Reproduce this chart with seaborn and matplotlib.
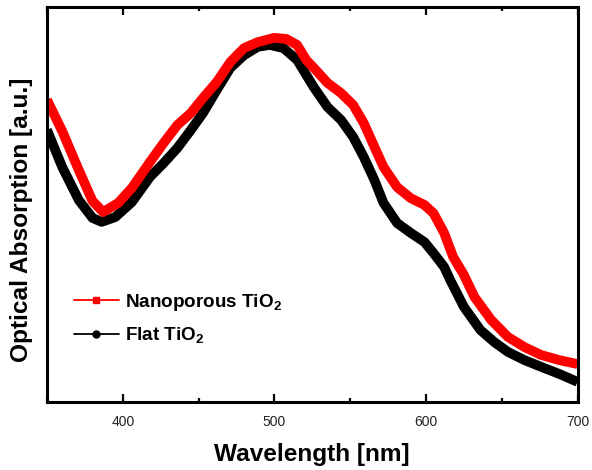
import numpy as np
import pandas as pd
import seaborn as sns
import matplotlib
matplotlib.use("Agg")
import matplotlib.pyplot as plt
from matplotlib.lines import Line2D
from matplotlib.ticker import MultipleLocator

# Data (arbitrary units)
wl_nano = [350, 360, 371, 380, 387, 397, 406, 418, 427, 436, 445, 453, 462, 471, 480,
           489, 500, 508, 515, 521, 526, 535, 544, 552, 559, 566, 572, 581, 590, 599,
           605, 612, 618, 625, 632, 643, 654, 665, 676, 688, 700]
abs_nano = [0.765, 0.686, 0.587, 0.509, 0.481, 0.504, 0.542, 0.608, 0.656, 0.701, 0.732,
            0.770, 0.810, 0.861, 0.896, 0.911, 0.922, 0.919, 0.904, 0.866, 0.846, 0.808,
            0.782, 0.752, 0.706, 0.646, 0.595, 0.544, 0.516, 0.499, 0.478, 0.428, 0.367,
            0.322, 0.266, 0.208, 0.165, 0.139, 0.119, 0.106, 0.096]

wl_flat = [350, 360, 371, 380, 386, 395, 406, 418, 427, 436, 445, 453, 462, 471, 480,
           489, 497, 506, 515, 526, 535, 544, 552, 559, 566, 572, 581, 590, 599, 605,
           612, 616, 625, 636, 645, 654, 665, 676, 688, 700]
abs_flat = [0.689, 0.595, 0.511, 0.466, 0.456, 0.468, 0.506, 0.570, 0.605, 0.643, 0.689,
            0.732, 0.790, 0.846, 0.878, 0.899, 0.904, 0.896, 0.866, 0.797, 0.747, 0.714,
            0.671, 0.620, 0.562, 0.504, 0.453, 0.428, 0.405, 0.377, 0.342, 0.309, 0.241,
            0.182, 0.152, 0.127, 0.106, 0.089, 0.071, 0.051]

series_names = ["Nanoporous TiO$_2$", "Flat TiO$_2$"]
x_ticks = [400, 500, 600, 700]

df = pd.concat([
    pd.DataFrame({"wl": wl_flat, "abs": abs_flat, "s": series_names[1]}),
    pd.DataFrame({"wl": wl_nano, "abs": abs_nano, "s": series_names[0]}),
], ignore_index=True)

sns.set_style("ticks")
plt.rcParams["font.family"] = ["Liberation Sans", "DejaVu Sans"]
plt.rcParams["text.color"] = "black"
plt.rcParams["axes.labelcolor"] = "black"
plt.rcParams["mathtext.fontset"] = "custom"
plt.rcParams["mathtext.rm"] = "Liberation Sans:bold"
plt.rcParams["mathtext.it"] = "Liberation Sans:bold"
plt.rcParams["mathtext.bf"] = "Liberation Sans:bold"

fig = plt.figure(figsize=(5.92, 4.70), dpi=100)
ax = fig.add_axes([47 / 592, 68 / 470, 530.5 / 592, 395 / 470])

sns.lineplot(data=df, x="wl", y="abs", hue="s", sort=False, estimator=None,
             palette={series_names[0]: "#ff0000", series_names[1]: "#000000"},
             hue_order=[series_names[1], series_names[0]],
             linewidth=7.0, legend=False, ax=ax)
for ln in ax.lines:
    ln.set_solid_joinstyle("round")
    ln.set_solid_capstyle("butt")

ax.set_xlim(350, 700)
ax.set_ylim(0, 1.0)
ax.set_xticks(x_ticks)
ax.xaxis.set_minor_locator(MultipleLocator(50))
ax.set_yticks([])
ax.tick_params(axis="x", which="major", direction="in", length=6, width=1.6,
               top=True, labelsize=10, pad=9, colors="black", labelcolor="#222222")
ax.tick_params(axis="x", which="minor", direction="in", length=3, width=1.6, top=True,
               colors="black")
for sp in ax.spines.values():
    sp.set_visible(True)
    sp.set_linewidth(2.2)
    sp.set_color("black")

ax.set_xlabel("Wavelength [nm]", fontsize=17.6, fontweight="bold")
ax.xaxis.set_label_coords(0.5, -0.103)
ax.set_ylabel("Optical Absorption [a.u.]", fontsize=17.6, fontweight="bold")
ax.yaxis.set_label_coords(-0.027, 0.462)

handles = [
    Line2D([], [], color="#ff0000", lw=1.3, marker="s", markersize=5),
    Line2D([], [], color="#000000", lw=1.3, marker="o", markersize=5),
]
leg = ax.legend(handles, series_names, loc="upper left", bbox_to_anchor=(0.036, 0.298),
                frameon=False, handlelength=2.4, handletextpad=0.3, numpoints=1,
                labelspacing=0.66, prop={"weight": "bold", "size": 13.6}, borderaxespad=0)

fig.savefig("out.png", dpi=100)
